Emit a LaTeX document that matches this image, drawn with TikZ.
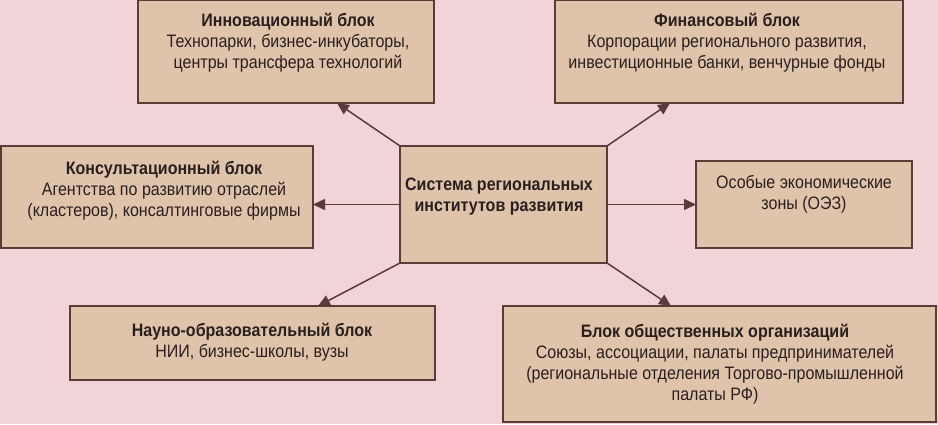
\documentclass[tikz,border=0pt]{standalone}
\usepackage{fontspec}
\setmainfont[FakeStretch=0.89]{Liberation Sans}
\usetikzlibrary{arrows.meta}
\definecolor{bgpink}{HTML}{F1D4D7}
\definecolor{boxfill}{HTML}{DFC3AA}
\definecolor{edge}{HTML}{5B3B37}
\definecolor{ink}{HTML}{2A1F1F}
\tikzset{
  blk/.style={draw=edge, fill=boxfill, line width=1.8pt, inner sep=0pt, outer sep=0pt},
  txt/.style={align=center, text=ink, inner sep=0pt, font=\fontsize{18}{21}\selectfont},
  arr/.style={draw=edge, line width=1.5pt, -{Triangle[length=12pt,width=11pt]}}
}
\begin{document}
\begin{tikzpicture}[x=1pt,y=-1pt]
\fill[bgpink] (0,0) rectangle (938,424);
\useasboundingbox (0,0) rectangle (938,424);
% boxes
\node[blk, minimum width=296pt, minimum height=103pt] (b1) at (286,51.5) {};
\node[blk, minimum width=348pt, minimum height=103pt] (b2) at (729,51.5) {};
\node[blk, minimum width=312pt, minimum height=102pt] (b3) at (157,197) {};
\node[blk, minimum width=207pt, minimum height=117pt] (c) at (503.5,204.5) {};
\node[blk, minimum width=216pt, minimum height=87pt] (b5) at (804,204.5) {};
\node[blk, minimum width=365pt, minimum height=74pt] (b6) at (252.5,343) {};
\node[blk, minimum width=433pt, minimum height=116pt] (b7) at (719.5,364) {};
% texts
\node[txt] (t1) at (288,43) {\textbf{Инновационный блок}\\Технопарки, бизнес-инкубаторы,\\центры трансфера технологий};
\node[txt] (t2) at (727,43) {\textbf{Финансовый блок}\\Корпорации регионального развития,\\инвестиционные банки, венчурные фонды};
\node[txt] (t3) at (164,191) {\textbf{Консультационный блок}\\Агентства по развитию отраслей\\(кластеров), консалтинговые фирмы};
\node[txt] (tc) at (499,197) {\textbf{Система региональных}\\\textbf{институтов развития}};
\node[txt] (t5) at (804,194) {Особые экономические\\зоны (ОЭЗ)};
\node[txt] (t6) at (252,342.5) {\textbf{Науно-образовательный блок}\\НИИ, бизнес-школы, вузы};
\node[txt] (t7) at (715,364) {\textbf{Блок общественных организаций}\\Союзы, ассоциации, палаты предпринимателей\\(региональные отделения Торгово-промышленной\\палаты РФ)};
% arrows
\draw[arr] (c.north west) -- (337,0 |- b1.south);
\draw[arr] (c.north east) -- (670,0 |- b2.south);
\draw[arr] (c.west) -- (c.west -| b3.east);
\draw[arr] (c.east) -- (c.east -| b5.west);
\draw[arr] (c.south west) -- (318,0 |- b6.north);
\draw[arr] (c.south east) -- (671,0 |- b7.north);
\end{tikzpicture}
\end{document}
